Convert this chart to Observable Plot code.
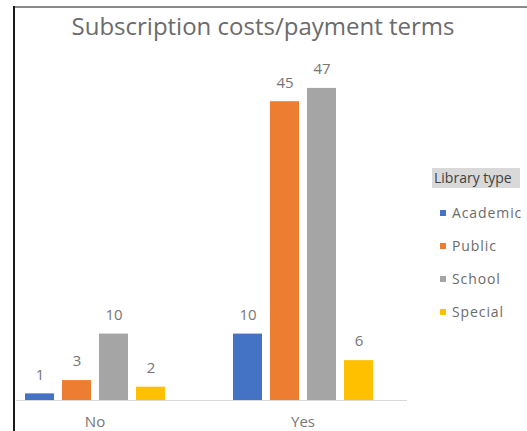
<!DOCTYPE html>
<html>
<head>
<meta charset="utf-8">
<script src="https://cdn.jsdelivr.net/npm/d3@7"></script>
<script src="https://cdn.jsdelivr.net/npm/@observablehq/plot@0.6"></script>
<style>
  html, body { margin: 0; padding: 0; background: #fff; }
  #frame { position: relative; width: 527px; height: 431px; overflow: hidden; background: #fff; font-family: "Open Sans", sans-serif; }
  #topline { position: absolute; left: 14px; top: 6px; width: 513px; height: 2px; background: #8a8a8a; }
  #leftline { position: absolute; left: 13px; top: 6px; width: 2px; height: 425px; background: #1a1a1a; }
  #chart { position: absolute; left: 0; top: 0; }
  #title { position: absolute; left: 14px; width: 498px; top: 14px; line-height: 24px; text-align: center; font-size: 24px; color: #6b6b6b; white-space: nowrap; }
  #legend { position: absolute; left: 432px; top: 168px; }
  #legend .hdr { width: 88px; height: 20px; line-height: 20px; background: #d9d9d9; color: #404040; font-size: 14px; padding-left: 2px; box-sizing: border-box; white-space: nowrap; overflow: hidden; }
  #legend .item { position: absolute; left: 8px; font-size: 14px; line-height: 16px; letter-spacing: 0.9px; color: #6b6b6b; white-space: nowrap; }
  #legend .sw { display: inline-block; width: 6px; height: 6px; margin-right: 6px; vertical-align: middle; position: relative; top: -1px; }
</style>
</head>
<body>
<div id="frame">
  <div id="title">Subscription costs/payment terms</div>
  <div id="chart"></div>
  <div id="topline"></div>
  <div id="leftline"></div>
  <div id="legend"><div class="hdr">Library type</div></div>
</div>
<script>
const responses = ["No", "Yes"];
const libraryTypes = ["Academic", "Public", "School", "Special"];
const noValues = [1, 3, 10, 2];
const yesValues = [10, 45, 47, 6];
const typeColors = ["#4472C4", "#ED7D31", "#A5A5A5", "#FFC000"];
const legendTitle = "Library type";

const seriesByResponse = { No: noValues, Yes: yesValues };
const data = [];
for (const r of responses) {
  libraryTypes.forEach((t, i) => data.push({ response: r, type: t, value: seriesByResponse[r][i] }));
}

const font = "Open Sans, sans-serif";
const chart = Plot.plot({
  width: 527,
  height: 431,
  marginTop: 68,
  marginBottom: 31,
  marginLeft: 22,
  marginRight: 152.5,
  style: { fontFamily: font, background: "transparent", color: "#767676" },
  fx: { domain: responses, paddingInner: 0.313, paddingOuter: 0, label: null, tickSize: 0, tickPadding: 16, fontSize: 15 },
  x: { domain: libraryTypes, paddingInner: 0.22, paddingOuter: 0, axis: null },
  y: { domain: [0, 50], axis: null },
  color: { domain: libraryTypes, range: typeColors },
  facet: { marginTop: 0, marginBottom: 0, marginLeft: 0, marginRight: 0 },
  marks: [
    Plot.ruleY([{ response: "No" }], { fx: "response", y: () => 0, stroke: "#d9d9d9", insetLeft: -7, insetRight: -33 }),
    Plot.ruleY([{ response: "Yes" }], { fx: "response", y: () => 0, stroke: "#d9d9d9", insetLeft: -33, insetRight: -33 }),
    Plot.barY(data, { fx: "response", x: "type", y: "value", fill: "type" }),
    Plot.text(data, { fx: "response", x: "type", y: "value", text: d => String(d.value), dy: -19, fill: "#767676", fontSize: 15 })
  ]
});
chart.querySelectorAll("text").forEach(t => { if (!t.getAttribute("font-size")) t.setAttribute("font-size", 15); });
document.getElementById("chart").appendChild(chart);

const legend = document.getElementById("legend");
legend.querySelector(".hdr").textContent = legendTitle;
const itemTops = [45, 78, 111, 144];
libraryTypes.forEach((t, i) => {
  const el = document.createElement("div");
  el.className = "item";
  el.style.top = (itemTops[i] - 8) + "px";
  const sw = document.createElement("span");
  sw.className = "sw";
  sw.style.background = typeColors[i];
  el.appendChild(sw);
  el.appendChild(document.createTextNode(t));
  legend.appendChild(el);
});
</script>
</body>
</html>
